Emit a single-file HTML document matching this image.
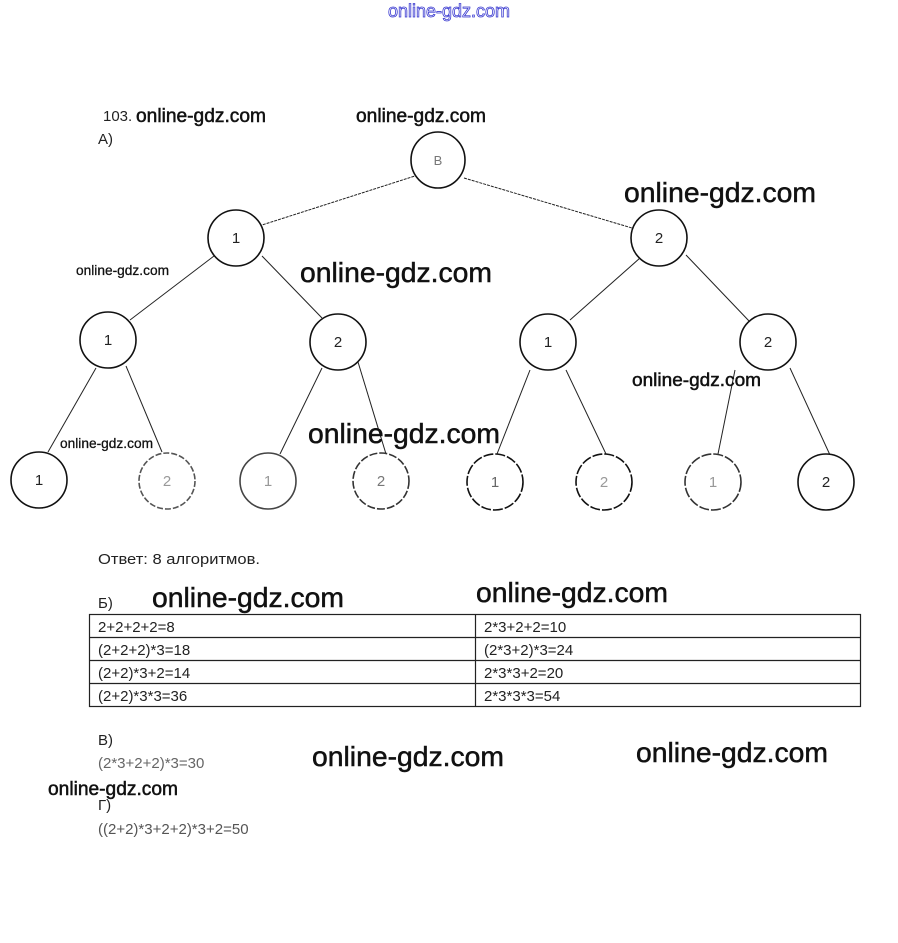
<!DOCTYPE html>
<html><head><meta charset="utf-8"><style>
html,body{margin:0;padding:0;background:#fff;}
svg{display:block;}
.w{font-family:"Liberation Sans",sans-serif;fill:#111;stroke:#111;stroke-width:0.5;}
.t{font-family:"Liberation Sans","Noto Sans CJK SC",sans-serif;fill:#222;font-size:15px;}
.n{font-family:"Liberation Sans",sans-serif;font-size:15px;text-anchor:middle;}
</style></head><body>
<svg width="898" height="943" viewBox="0 0 898 943" xmlns="http://www.w3.org/2000/svg">
<text x="388" y="17" font-family="Liberation Sans,sans-serif" font-size="18" fill="#fff" stroke="#3a3ad0" stroke-width="0.8" textLength="122" lengthAdjust="spacingAndGlyphs">online-gdz.com</text>

<g stroke="#222" stroke-width="1" fill="none">
<line x1="418" y1="175" x2="262" y2="225" stroke-dasharray="3,1"/>
<line x1="464" y1="178" x2="632" y2="228" stroke-dasharray="3,1"/>
<line x1="214" y1="256" x2="130" y2="320"/>
<line x1="262" y1="256" x2="322" y2="318"/>
<line x1="640" y1="258" x2="570" y2="320"/>
<line x1="686" y1="255" x2="750" y2="322"/>
<line x1="96" y1="368" x2="48" y2="452"/>
<line x1="126" y1="366" x2="162" y2="452"/>
<line x1="322" y1="368" x2="280" y2="454"/>
<line x1="358" y1="362" x2="386" y2="454"/>
<line x1="530" y1="370" x2="497" y2="454"/>
<line x1="566" y1="370" x2="606" y2="454"/>
<line x1="735" y1="370" x2="718" y2="454"/>
<line x1="790" y1="368" x2="830" y2="455"/>
</g>
<g stroke="#111" stroke-width="1.6" fill="#fff">
<ellipse cx="438" cy="160" rx="27" ry="28"/>
<ellipse cx="236" cy="238" rx="28" ry="28"/>
<ellipse cx="659" cy="238" rx="28" ry="28"/>
<ellipse cx="108" cy="340" rx="28" ry="28"/>
<ellipse cx="338" cy="342" rx="28" ry="28"/>
<ellipse cx="548" cy="342" rx="28" ry="28"/>
<ellipse cx="768" cy="342" rx="28" ry="28"/>
<ellipse cx="39" cy="480" rx="28" ry="28"/>
<ellipse cx="167" cy="481" rx="28" ry="28" stroke="#555" stroke-dasharray="6,2"/>
<ellipse cx="268" cy="481" rx="28" ry="28" stroke="#444"/>
<ellipse cx="381" cy="481" rx="28" ry="28" stroke="#333" stroke-dasharray="8,2"/>
<ellipse cx="495" cy="482" rx="28" ry="28" stroke-dasharray="10,2"/>
<ellipse cx="604" cy="482" rx="28" ry="28" stroke-dasharray="10,2"/>
<ellipse cx="713" cy="482" rx="28" ry="28" stroke="#333" stroke-dasharray="10,2"/>
<ellipse cx="826" cy="482" rx="28" ry="28"/>
</g>
<g class="n" fill="#222">
<text x="438" y="165" fill="#777" font-size="13">B</text>
<text x="236" y="243">1</text><text x="659" y="243">2</text>
<text x="108" y="345">1</text><text x="338" y="347">2</text>
<text x="548" y="347">1</text><text x="768" y="347">2</text>
<text x="39" y="485">1</text><text x="167" y="486" fill="#999">2</text>
<text x="268" y="486" fill="#999">1</text><text x="381" y="486" fill="#777">2</text>
<text x="495" y="487" fill="#666">1</text><text x="604" y="487" fill="#999">2</text>
<text x="713" y="487" fill="#999">1</text><text x="826" y="487">2</text>
</g>

<text class="t" x="103" y="121">103.</text>
<text class="t" x="98" y="144">А)</text>
<text class="t" x="98" y="564" textLength="162" lengthAdjust="spacingAndGlyphs">Ответ: 8 алгоритмов.</text>
<text class="t" x="98" y="608">Б)</text>

<g stroke="#222" stroke-width="1.2" fill="none">
<rect x="89.5" y="614.5" width="771" height="92"/>
<line x1="89" y1="637.5" x2="861" y2="637.5"/>
<line x1="89" y1="660.5" x2="861" y2="660.5"/>
<line x1="89" y1="683.5" x2="861" y2="683.5"/>
<line x1="475.5" y1="614" x2="475.5" y2="707"/>
</g>
<g class="t">
<text x="98" y="632">2+2+2+2=8</text>
<text x="98" y="655">(2+2+2)*3=18</text>
<text x="98" y="678">(2+2)*3+2=14</text>
<text x="98" y="701">(2+2)*3*3=36</text>
<text x="484" y="632">2*3+2+2=10</text>
<text x="484" y="655">(2*3+2)*3=24</text>
<text x="484" y="678">2*3*3+2=20</text>
<text x="484" y="701">2*3*3*3=54</text>
<text x="98" y="745">В)</text>
<text x="98" y="768" fill="#666">(2*3+2+2)*3=30</text>
<text x="98" y="810">Г)</text>
<text x="98" y="834" fill="#555">((2+2)*3+2+2)*3+2=50</text>
</g>

<g class="w">
<text x="136" y="122" font-size="19" textLength="130" lengthAdjust="spacingAndGlyphs">online-gdz.com</text>
<text x="356" y="122" font-size="19" textLength="130" lengthAdjust="spacingAndGlyphs">online-gdz.com</text>
<text x="624" y="202" font-size="28" textLength="192" lengthAdjust="spacingAndGlyphs">online-gdz.com</text>
<text x="76" y="275" font-size="14" textLength="93" lengthAdjust="spacingAndGlyphs" stroke-width="0.3">online-gdz.com</text>
<text x="300" y="282" font-size="28" textLength="192" lengthAdjust="spacingAndGlyphs">online-gdz.com</text>
<text x="632" y="386" font-size="18" textLength="129" lengthAdjust="spacingAndGlyphs">online-gdz.com</text>
<text x="308" y="443" font-size="28" textLength="192" lengthAdjust="spacingAndGlyphs">online-gdz.com</text>
<text x="60" y="448" font-size="14" textLength="93" lengthAdjust="spacingAndGlyphs" stroke-width="0.3">online-gdz.com</text>
<text x="152" y="607" font-size="28" textLength="192" lengthAdjust="spacingAndGlyphs">online-gdz.com</text>
<text x="476" y="602" font-size="28" textLength="192" lengthAdjust="spacingAndGlyphs">online-gdz.com</text>
<text x="312" y="766" font-size="28" textLength="192" lengthAdjust="spacingAndGlyphs">online-gdz.com</text>
<text x="636" y="762" font-size="28" textLength="192" lengthAdjust="spacingAndGlyphs">online-gdz.com</text>
<text x="48" y="795" font-size="19" textLength="130" lengthAdjust="spacingAndGlyphs">online-gdz.com</text>
</g>
</svg>
</body></html>
